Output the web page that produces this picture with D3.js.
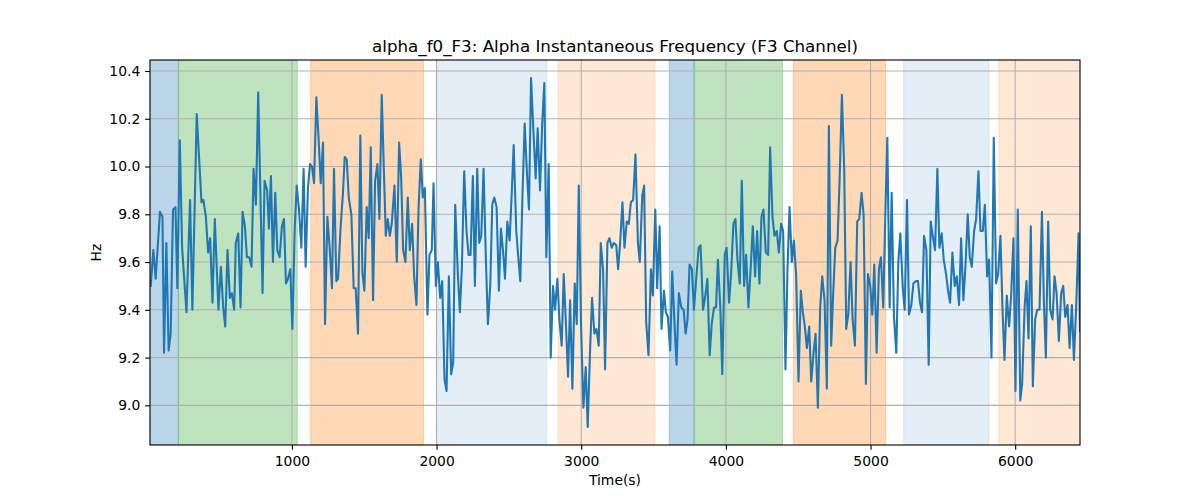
<!DOCTYPE html>
<html>
<head>
<meta charset="utf-8">
<script src="https://cdn.jsdelivr.net/npm/d3@7"></script>
<style>
  html, body { margin: 0; padding: 0; background: #fff; }
  svg { display: block; font-family: "DejaVu Sans", sans-serif; }
</style>
</head>
<body>
<svg id="chart" width="1200" height="500"></svg>
<script>
// ---------- data ----------
const timeS = [
  24,42,58,88,105,116,132,148,162,178,195,208,225,241,271,296,312,342,375,388,405,421,435,451,467,492,509,525,539,555,571,585,601,612,629,645,659,675,689,705,721,735,751,767,797,
  811,829,841,855,869,885,899,915,931,945,959,973,989,1003,1019,1033,1049,1065,1081,1095,1111,1125,1139,1153,1169,1185,1199,1215,1229,1245,1261,1277,1291,1307,1319,1337,1353,1365,1379,1393,1411,1427,1441,1457,1473,1487,1501,1517,1531,1545,1561,1575,1591,1605,
  1621,1635,1649,1663,1677,1690,1709,1725,1741,1755,1769,1785,1801,1815,1831,1845,1861,1875,1891,1905,1919,1937,1951,1967,1979,1995,2009,2025,2039,2055,2069,2085,2101,2115,2129,2147,2161,2175,2191,2207,2221,2235,2251,2265,2281,2295,2309,2325,2341,2355,2371,2385,2399,2415,
  2431,2445,2459,2473,2489,2505,2519,2533,2551,2565,2579,2593,2609,2625,2639,2653,2671,2685,2699,2715,2731,2745,2759,2775,2789,2805,2819,2835,2849,2865,2879,2895,2909,2923,2939,2955,2969,2983,2999,3015,3031,3045,3061,3075,3091,3105,3121,3135,3151,3165,3181,3195,3211,3225,
  3242,3255,3269,3285,3299,3315,3329,3343,3359,3375,3392,3405,3422,3435,3449,3465,3482,3495,3512,3525,3542,3555,3572,3585,3599,3615,3629,3645,3659,3675,3692,3708,3722,3735,3749,3765,3779,3795,3812,3825,3842,3858,3872,3888,3902,3918,3932,3945,3962,3975,3992,4005,4022,4036,
  4052,4066,4080,4096,4110,4126,4140,4156,4172,4186,4202,4216,4232,4246,4260,4276,4292,4306,4322,4336,4352,4366,4382,4396,4412,4426,4440,4456,4470,4486,4502,4518,4532,4546,4560,4576,4590,4606,4620,4636,4652,4666,4682,4698,4712,4728,4742,4756,4772,4786,4802,4818,4832,4846,
  4862,4876,4892,4908,4922,4938,4952,4968,4982,4998,5012,5026,5042,5058,5072,5088,5102,5116,5132,5146,5162,5178,5192,5206,5222,5236,5252,5266,5282,5296,5312,5328,5342,5356,5370,5386,5402,5416,5430,5446,5462,5476,5492,5506,5522,5536,5550,5566,5582,5596,5612,5626,5642,5656,
  5672,5686,5700,5716,5730,5746,5760,5776,5790,5806,5820,5836,5852,5868,5882,5898,5912,5926,5942,5958,5972,5988,6002,6018,6035,6048,6065,6078,6092,6108,6122,6138,6152,6168,6185,6198,6212,6228,6242,6258,6272,6286,6302,6318,6332,6346,6362,6376,6392,6406,6422,6438,6448
];
const alphaHz = [
  9.50,9.65,9.53,9.81,9.79,9.22,9.68,9.23,9.30,9.82,9.83,9.49,10.11,9.66,9.39,9.86,9.40,10.22,9.85,9.86,9.79,9.64,9.70,9.43,9.78,9.40,9.58,9.41,9.33,9.65,9.45,9.47,9.40,9.68,9.72,9.41,9.81,9.75,9.62,9.62,9.58,9.99,9.84,10.31,9.47,
  9.94,9.90,9.74,9.96,9.60,9.89,9.65,9.62,9.75,9.78,9.51,9.53,9.57,9.32,9.73,9.92,9.82,9.66,9.99,9.58,9.91,10.01,10.00,9.93,10.29,10.11,9.93,10.10,9.34,9.79,9.66,9.49,9.99,9.52,9.53,9.75,9.89,10.04,10.03,9.87,9.80,9.49,9.49,9.30,10.13,9.56,9.48,9.83,9.70,10.08,9.44,9.94,10.01,9.78,
  10.30,10.00,9.71,9.78,9.71,9.76,9.92,9.60,10.10,9.96,9.65,9.60,9.87,9.65,9.76,9.54,9.42,9.82,10.03,9.87,9.91,9.38,9.63,9.65,9.93,9.50,9.60,9.45,9.52,9.11,9.06,9.54,9.13,9.18,9.84,9.55,9.39,9.58,9.98,9.73,9.63,9.63,9.96,9.50,9.99,9.68,9.71,9.99,9.61,9.34,9.50,9.84,9.87,9.83,
  9.48,9.74,9.65,9.53,9.77,9.69,9.88,10.09,9.73,9.62,9.52,9.86,10.18,9.97,9.82,10.37,10.13,9.95,10.16,9.90,10.19,10.35,9.62,10.01,9.20,9.50,9.40,9.53,9.36,9.25,9.55,9.33,9.12,9.44,9.07,9.51,9.34,9.92,9.33,8.99,9.16,8.91,9.23,9.45,9.30,9.32,9.25,9.68,9.57,9.15,9.68,9.70,9.66,9.68,
  9.67,9.57,9.68,9.85,9.66,9.77,9.76,9.85,9.86,10.05,9.68,9.60,9.88,9.92,9.35,9.21,9.57,9.46,9.82,9.49,9.75,9.32,9.48,9.39,9.37,9.23,9.56,9.34,9.17,9.47,9.41,9.40,9.30,9.36,9.59,9.57,9.40,9.53,9.66,9.67,9.40,9.46,9.53,9.21,9.34,9.41,9.41,9.61,9.40,9.13,9.63,9.66,9.43,9.55,
  9.76,9.78,9.61,9.51,9.94,9.50,9.63,9.41,9.58,9.75,9.54,9.73,9.51,9.79,9.82,9.64,9.63,10.08,9.79,9.71,9.73,9.64,9.76,9.73,9.15,9.57,9.83,9.60,9.69,9.54,9.10,9.48,9.39,9.33,9.24,9.33,9.10,9.22,9.30,8.99,9.41,9.54,9.44,9.07,10.17,9.25,9.47,9.66,9.69,9.94,10.30,9.99,9.32,9.38,
  9.60,9.36,9.25,9.77,9.78,9.89,9.80,9.09,9.55,9.50,9.38,9.59,9.22,9.57,9.62,9.41,9.79,10.12,9.41,9.89,9.37,9.22,9.60,9.72,9.50,9.40,9.86,9.38,9.42,9.51,9.52,9.52,9.43,9.39,9.71,9.65,9.17,9.77,9.71,9.65,9.99,9.66,9.72,9.61,9.55,9.48,9.43,9.64,9.50,9.54,9.42,9.70,9.44,9.58,
  9.80,9.62,9.58,9.73,9.78,9.98,9.73,9.73,9.84,9.54,9.61,9.20,10.12,9.51,9.55,9.71,9.41,9.19,9.46,9.33,9.46,9.70,9.06,9.82,9.02,9.09,9.41,9.52,9.28,9.75,9.08,9.36,9.40,9.40,9.81,9.44,9.20,9.77,9.40,9.36,9.54,9.47,9.27,9.47,9.50,9.37,9.42,9.24,9.42,9.19,9.42,9.72,9.31
];

// shaded state periods
const spanStart = [0, 215, 1130, 1997, 2840, 3609, 3780, 4467, 5229, 5887];
const spanEnd   = [215, 1037, 1910, 2762, 3510, 3780, 4391, 5104, 5818, 6500];
const spanColor = ["#1f77b4","#2ca02c","#ff7f0e","#1f77b4","#ff7f0e","#1f77b4","#2ca02c","#ff7f0e","#1f77b4","#ff7f0e"];
const spanAlpha = [0.3, 0.3, 0.3, 0.12, 0.18, 0.3, 0.3, 0.3, 0.12, 0.18];

const xLimits = [19, 6448];
const yLimits = [8.834, 10.446];
const xTickValues = [1000, 2000, 3000, 4000, 5000, 6000];
const yTickValues = [9.0, 9.2, 9.4, 9.6, 9.8, 10.0, 10.2, 10.4];

const titleText = "alpha_f0_F3: Alpha Instantaneous Frequency (F3 Channel)";
const xLabelText = "Time(s)";
const yLabelText = "Hz";

// ---------- layout ----------
const M = { left: 150, right: 1080, top: 60, bottom: 445 };
const svg = d3.select("#chart");

const x = d3.scaleLinear().domain(xLimits).range([M.left, M.right]);
const y = d3.scaleLinear().domain(yLimits).range([M.bottom, M.top]);

svg.append("defs").append("clipPath").attr("id", "clip")
  .append("rect").attr("x", M.left).attr("y", M.top)
  .attr("width", M.right - M.left).attr("height", M.bottom - M.top);

const plot = svg.append("g").attr("clip-path", "url(#clip)");

// spans
const spans = spanStart.map((s, i) => ({ s, e: spanEnd[i], c: spanColor[i], a: spanAlpha[i] }));
plot.selectAll("rect.span").data(spans).join("rect")
  .attr("class", "span")
  .attr("x", d => x(d.s)).attr("width", d => x(d.e) - x(d.s))
  .attr("y", M.top).attr("height", M.bottom - M.top)
  .attr("fill", d => d.c).attr("fill-opacity", d => d.a)
  .attr("stroke", d => d.c).attr("stroke-opacity", d => d.a).attr("stroke-width", 1);

// grid
plot.selectAll("line.gx").data(xTickValues).join("line")
  .attr("x1", d => x(d)).attr("x2", d => x(d))
  .attr("y1", M.top).attr("y2", M.bottom)
  .attr("stroke", "#b0b0b0").attr("stroke-width", 1.1);
plot.selectAll("line.gy").data(yTickValues).join("line")
  .attr("y1", d => y(d)).attr("y2", d => y(d))
  .attr("x1", M.left).attr("x2", M.right)
  .attr("stroke", "#b0b0b0").attr("stroke-width", 1.1);

// line
const pts = timeS.map((t, i) => [t, alphaHz[i]]).filter(d => d[1] !== undefined);
plot.append("path").datum(pts)
  .attr("fill", "none").attr("stroke", "#1f77b4").attr("stroke-width", 2.08)
  .attr("stroke-linejoin", "round").attr("stroke-linecap", "square")
  .attr("d", d3.line().x(d => x(d[0])).y(d => y(d[1])));

// axes
const xAxis = svg.append("g").attr("transform", `translate(0,${M.bottom})`)
  .call(d3.axisBottom(x).tickValues(xTickValues).tickFormat(d3.format("d"))
    .tickSizeInner(4.86).tickSizeOuter(0).tickPadding(6.2));
const yAxis = svg.append("g").attr("transform", `translate(${M.left},0)`)
  .call(d3.axisLeft(y).tickValues(yTickValues).tickFormat(d3.format(".1f"))
    .tickSizeInner(4.86).tickSizeOuter(0).tickPadding(4.86));
[xAxis, yAxis].forEach(g => {
  g.select(".domain").remove();
  g.selectAll("line").attr("stroke", "#000").attr("stroke-width", 1.1);
  g.selectAll("text").attr("fill", "#000").style("font-size", "13.9px")
    .style("font-family", "'DejaVu Sans', sans-serif");
});

// spines
svg.append("rect").attr("x", M.left).attr("y", M.top)
  .attr("width", M.right - M.left).attr("height", M.bottom - M.top)
  .attr("fill", "none").attr("stroke", "#000").attr("stroke-width", 1.1);

// titles
svg.append("text").attr("x", (M.left + M.right) / 2).attr("y", 51.5)
  .attr("text-anchor", "middle").style("font-size", "16.7px").attr("fill", "#000")
  .text(titleText);
svg.append("text").attr("x", (M.left + M.right) / 2).attr("y", 485)
  .attr("text-anchor", "middle").style("font-size", "13.9px").attr("fill", "#000")
  .text(xLabelText);
svg.append("text").attr("transform", `translate(101,${(M.top + M.bottom) / 2}) rotate(-90)`)
  .attr("text-anchor", "middle").style("font-size", "13.9px").attr("fill", "#000")
  .text(yLabelText);
</script>
</body>
</html>
